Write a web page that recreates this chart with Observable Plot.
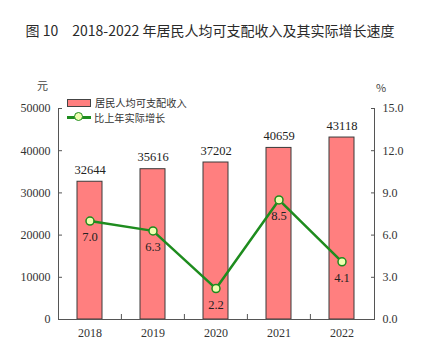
<!DOCTYPE html>
<html>
<head>
<meta charset="utf-8">
<script src="https://cdn.jsdelivr.net/npm/d3@7"></script>
<script src="https://cdn.jsdelivr.net/npm/@observablehq/plot@0.6"></script>
<style>
  body { margin: 0; background: #fff; }
  #wrap { position: relative; width: 428px; height: 358px; overflow: hidden; }
  #title { height: 50px; box-sizing: border-box; padding-top: 20px; padding-right: 8px; text-align: center;
    font-family: "Noto Sans CJK SC", "Noto Sans", sans-serif; font-size: 14px; color: #2a2a2a; white-space: pre; letter-spacing: 0px; }
  #title .gap { display: inline-block; width: 14px; }
  .unit { position: absolute; font-family: "Noto Sans CJK SC", "Liberation Serif", serif; font-size: 11px; color: #444; }
  .legend { position: absolute; left: 67px; font-family: "Noto Sans CJK SC", sans-serif; font-size: 10.2px; color: #333; display: flex; align-items: center; }
  .sw-bar { width: 22px; height: 6px; background: #ff7f7f; border: 1px solid #444; margin-right: 4px; }
  .sw-line { position: relative; width: 24px; height: 3px; background: #1e8c1e; margin-right: 3px; }
  .sw-line::after { content: ""; position: absolute; left: 7px; top: -4px; width: 7px; height: 7px; border-radius: 50%; background: #f0ffb0; border: 1.5px solid #1e8c1e; }
</style>
</head>
<body>
<div id="wrap">
  <div id="title">图 10<span class="gap"></span>2018-2022 年居民人均可支配收入及其实际增长速度</div>
  <div id="chart"></div>
  <div class="unit" style="left:37px; top:77px;">元</div>
  <div class="unit" style="left:376px; top:79px;">%</div>
  <div class="legend" style="top:95px;"><div class="sw-bar"></div><span>居民人均可支配收入</span></div>
  <div class="legend" style="top:110px;"><div class="sw-line"></div><span>比上年实际增长</span></div>
</div>
<script>
const years = ["2018", "2019", "2020", "2021", "2022"];
const income = [32644, 35616, 37202, 40659, 43118];
const growth = [7.0, 6.3, 2.2, 8.5, 4.1];
const incomeTicks = [0, 10000, 20000, 30000, 40000, 50000];
const growthTicks = [0, 3, 6, 9, 12, 15];

const incomeMax = 50000, growthMax = 15;
const k = incomeMax / growthMax;
const data = years.map((y, i) => ({year: y, income: income[i], growth: growth[i]}));

const W = 428, H = 308, mL = 58, mR = 54, mT = 58, mB = 39;
const step = (W - mL - mR) / years.length;
const tickLen = 5 / (H - mT - mB) * incomeMax;

const chart = Plot.plot({
  width: W, height: H,
  marginTop: mT, marginBottom: mB, marginLeft: mL, marginRight: mR,
  x: {domain: years, paddingInner: 0.6, paddingOuter: 0.3, axis: null},
  y: {domain: [0, incomeMax], axis: null},
  style: {fontFamily: "'Liberation Serif', 'Times New Roman', serif", fontSize: "12px", color: "#333", background: "transparent"},
  marks: [
    Plot.barY(data, {x: "year", y: "income", fill: "#ff7f7f", stroke: "#3a3a3a", strokeWidth: 1}),
    Plot.text(data, {x: "year", y: "income", text: d => String(d.income), dy: -12, fontSize: 12.5, fill: "#222"}),
    Plot.line(data, {x: "year", y: d => d.growth * k, stroke: "#1e8c1e", strokeWidth: 2.5}),
    Plot.dot(data, {x: "year", y: d => d.growth * k, r: 4, fill: "#f0ffb0", stroke: "#1e8c1e", strokeWidth: 1.5}),
    Plot.text(data, {x: "year", y: d => d.growth * k, text: d => d.growth.toFixed(1), dy: 16, fontSize: 12.5, fill: "#222"}),
    Plot.axisY(incomeTicks, {anchor: "left", label: null, tickSize: -4, tickPadding: 12, tickFormat: d => String(d), stroke: "#555", fontSize: 12}),
    Plot.axisY(growthTicks.map(v => v * k), {anchor: "right", label: null, tickSize: -4, tickPadding: 12, tickFormat: d => (d / k).toFixed(1), stroke: "#555", fontSize: 12}),
    Plot.axisX({label: null, tickSize: 0, tickPadding: 9, fontSize: 12}),
    Plot.ruleX(years.slice(1), {x: d => d, dx: -step / 2, y1: 0, y2: tickLen, stroke: "#555"}),
    Plot.frame({anchor: "left", stroke: "#555"}),
    Plot.frame({anchor: "right", stroke: "#555"}),
    Plot.frame({anchor: "bottom", stroke: "#555"})
  ]
});
document.getElementById("chart").appendChild(chart);
</script>
</body>
</html>
